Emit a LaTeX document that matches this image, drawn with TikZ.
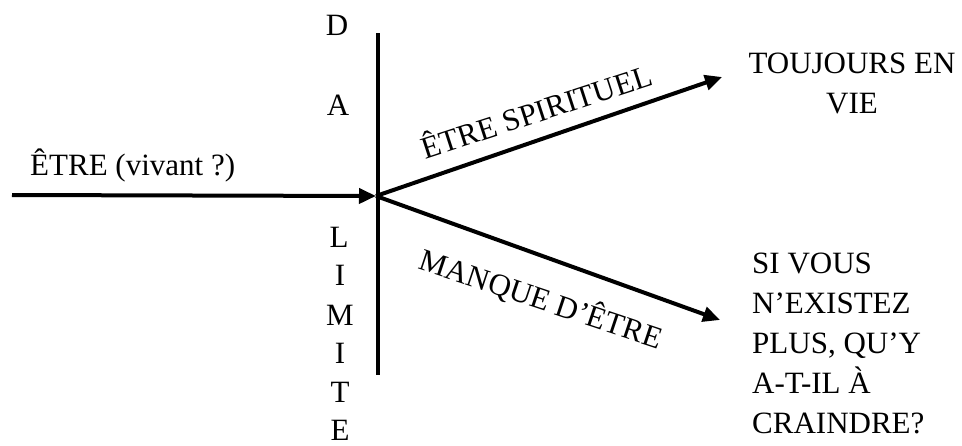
\documentclass[tikz,border=0pt]{standalone}
\usepackage{fontspec}
\setmainfont{Liberation Serif}
\usetikzlibrary{arrows.meta}
\begin{document}
\begin{tikzpicture}[x=1pt,y=-1pt,
  lbl/.style={inner sep=0pt,font=\fontsize{31}{40}\selectfont},
  ln/.style={line width=4pt},
  arr/.style={ln,-{Triangle[length=17pt,width=15pt]}}]
\useasboundingbox (0,0) rectangle (962,445);
\coordinate (start) at (12,195);
\coordinate (c) at (376,196);
\coordinate (vtop) at (378,33);
\coordinate (vbot) at (378,375);
\coordinate (up) at (722,77);
\coordinate (dn) at (720,320);
\draw[ln] (vtop) -- (vbot);
\draw[arr] (start) -- (c);
\draw[arr] (c) -- (up);
\draw[arr] (c) -- (dn);
\node[lbl,anchor=base west] (etre) at (30,175) {ÊTRE (vivant ?)};
\node[lbl,anchor=base,rotate=18] (spir) at (540,122) {ÊTRE SPIRITUEL};
\node[lbl,anchor=base,rotate=-18.5] (manque) at (538,309) {MANQUE D’ÊTRE};
\node[lbl,anchor=base,align=center] (vie) at (852,113) {TOUJOURS EN\\VIE};
\node[lbl,anchor=base west,align=left] (crain) at (752,433) {SI VOUS\\N’EXISTEZ\\PLUS, QU’Y\\A-T-IL À\\CRAINDRE?};
\node[lbl,anchor=base] (d1) at (337,35) {D};
\node[lbl,anchor=base] (d2) at (338,115) {A};
\node[lbl,anchor=base] (l1) at (339,247) {L};
\node[lbl,anchor=base] (l2) at (340,285) {I};
\node[lbl,anchor=base] (l3) at (340,325) {M};
\node[lbl,anchor=base] (l4) at (340,363) {I};
\node[lbl,anchor=base] (l5) at (340,402) {T};
\node[lbl,anchor=base] (l6) at (340,440) {E};
\end{tikzpicture}
\end{document}
